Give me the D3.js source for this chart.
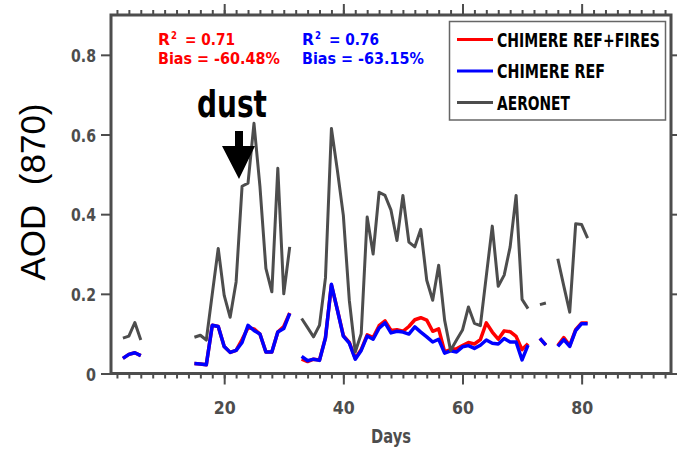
<!DOCTYPE html>
<html>
<head>
<meta charset="utf-8">
<script src="https://cdn.jsdelivr.net/npm/d3@7"></script>
<style>
  html, body { margin: 0; padding: 0; background: #fff; }
  svg { display: block; }
  .cond { font-family: "DejaVu Sans", sans-serif; font-weight: bold; }
</style>
</head>
<body>
<svg id="chart" width="677" height="449"></svg>
<script>
// ---------- DATA ----------
const days = d3.range(3, 82);
const aeronet = [
  0.089, 0.094, 0.128, 0.084,                         // 3-6
  null, null, null, null, null, null, null, null,     // 7-14
  0.091, 0.096, 0.084, 0.200, 0.314, 0.196, 0.141, 0.230, 0.470, 0.478, // 15-24
  0.628, 0.470, 0.264, 0.205, 0.515, 0.200, 0.318,    // 25-31
  null,                                               // 32
  0.138, 0.115, 0.092, 0.121, 0.240, 0.615, 0.510, 0.397, 0.184, 0.054, // 33-42
  0.100, 0.393, 0.300, 0.455, 0.447, 0.410, 0.334, 0.447, 0.330, 0.318, // 43-52
  0.362, 0.234, 0.184, 0.272, 0.134, 0.058, 0.084, 0.109, 0.167, 0.126, // 53-62
  0.120, 0.245, 0.370, 0.219, 0.247, 0.318, 0.447, 0.186, 0.163,        // 63-71
  null, 0.173, 0.177, null,                           // 72-75
  0.288, 0.220, 0.154, 0.376, 0.374, 0.340            // 76-81
];
const chimereRef = [
  0.038, 0.048, 0.052, 0.045,
  null, null, null, null, null, null, null, null,
  0.025, 0.024, 0.022, 0.121, 0.118, 0.068, 0.053, 0.058, 0.078, 0.121,
  0.108, 0.099, 0.054, 0.054, 0.104, 0.113, 0.151,
  null,
  0.043, 0.032, 0.036, 0.033, 0.089, 0.224, 0.159, 0.094, 0.076, 0.036,
  0.058, 0.094, 0.086, 0.114, 0.127, 0.102, 0.106, 0.104, 0.099, 0.117,
  0.104, 0.092, 0.079, 0.086, 0.051, 0.057, 0.054, 0.067, 0.070, 0.063,
  0.071, 0.084, 0.076, 0.074, 0.088, 0.079, 0.079, 0.034, 0.071,
  null, 0.088, 0.071, null,
  0.068, 0.085, 0.068, 0.108, 0.125, 0.125
];
const chimereFires = [
  0.038, 0.048, 0.052, 0.045,
  null, null, null, null, null, null, null, null,
  0.025, 0.024, 0.022, 0.121, 0.118, 0.068, 0.053, 0.058, 0.085, 0.115,
  0.112, 0.099, 0.054, 0.054, 0.104, 0.118, 0.152,
  null,
  0.036, 0.030, 0.036, 0.034, 0.090, 0.222, 0.160, 0.095, 0.078, 0.038,
  0.060, 0.097, 0.090, 0.120, 0.132, 0.108, 0.110, 0.106, 0.118, 0.135,
  0.140, 0.134, 0.106, 0.112, 0.055, 0.060, 0.062, 0.070, 0.078, 0.074,
  0.085, 0.127, 0.104, 0.086, 0.107, 0.105, 0.093, 0.060, 0.075,
  null, 0.088, 0.071, null,
  0.070, 0.090, 0.070, 0.110, 0.127, 0.127
];
const seriesNames = ["CHIMERE REF+FIRES", "CHIMERE REF", "AERONET"];
const seriesColors = ["#ff0000", "#0000ff", "#4d4d4d"];
const xMajorTicks = [20, 40, 60, 80];
const xMinorTicks = d3.range(2, 95, 2);
const yTicks = [0, 0.2, 0.4, 0.6, 0.8];
const yTickLabels = ["0", "0.2", "0.4", "0.6", "0.8"];
const statsFires = ["0.71", "-60.48%"];
const statsRef = ["0.76", "-63.15%"];

// ---------- LAYOUT ----------
const svg = d3.select("#chart");
const L = 111, R = 671, T = 15, B = 373.5;
const axisColor = "#4d4d4d";
const x = d3.scaleLinear().domain([1, 95]).range([L, R]);
const y = d3.scaleLinear().domain([0, 0.9]).range([B, T]);

// condensed text: draw at natural size, then squeeze horizontally to a target width
function condText(parent, tx, ty, str, size, color, targetW, anchor) {
  const g = parent.append("g");
  const t = g.append("text").attr("class", "cond")
    .attr("text-anchor", anchor || "start")
    .attr("fill", color).style("font-size", size + "px").text(str);
  const w = t.node().getComputedTextLength();
  const s = targetW / w;
  g.attr("transform", `translate(${tx},${ty}) scale(${s},1)`);
  return g;
}

// ---------- LINES ----------
const seriesData = [chimereFires, chimereRef, aeronet];
const widths = [3.5, 3.5, 3];
const line = d3.line()
  .defined(d => d.v !== null)
  .x(d => x(d.day))
  .y(d => y(d.v));
seriesData.forEach((vals, i) => {
  const pts = days.map((day, j) => ({ day, v: vals[j] }));
  svg.append("path")
    .datum(pts)
    .attr("fill", "none")
    .attr("stroke", seriesColors[i])
    .attr("stroke-width", widths[i])
    .attr("stroke-linejoin", "round")
    .attr("d", line);
});

// ---------- AXES ----------
function tickStyle(g) {
  g.select(".domain").remove();
  g.selectAll("line").attr("stroke", axisColor).attr("stroke-width", 2);
}
function squeezeLabels(g, widthFn, dx, dy) {
  g.selectAll("text").each(function(d, i) {
    const t = d3.select(this).attr("class", "cond").attr("fill", axisColor)
      .style("font-size", "18px");
    const w = this.getComputedTextLength();
    const s = widthFn(i) / w;
    t.attr("x", null).attr("y", null).attr("dy", null)
      .attr("transform", `translate(${dx},${dy}) scale(${s},1)`);
  });
}
svg.append("g").attr("transform", `translate(0,${B})`)
  .call(d3.axisBottom(x).tickValues(xMinorTicks).tickSize(5).tickFormat(""))
  .call(tickStyle);
const bx = svg.append("g").attr("transform", `translate(0,${B})`)
  .call(d3.axisBottom(x).tickValues(xMajorTicks).tickSize(11))
  .call(tickStyle);
squeezeLabels(bx, () => 22, 0, 40);
svg.append("g").attr("transform", `translate(0,${T})`)
  .call(d3.axisTop(x).tickValues(xMinorTicks).tickSize(5).tickFormat(""))
  .call(tickStyle);
svg.append("g").attr("transform", `translate(0,${T})`)
  .call(d3.axisTop(x).tickValues(xMajorTicks).tickSize(11).tickFormat(""))
  .call(tickStyle);
const ly = svg.append("g").attr("transform", `translate(${L},0)`)
  .call(d3.axisLeft(y).tickValues(yTicks).tickSize(10)
    .tickFormat((d, i) => yTickLabels[i]))
  .call(tickStyle);
squeezeLabels(ly, i => (i === 0 ? 10 : 25), -15, 6.5);
svg.append("g").attr("transform", `translate(${R},0)`)
  .call(d3.axisRight(y).tickValues(yTicks).tickSize(10).tickFormat(""))
  .call(tickStyle);
svg.append("rect").attr("x", L).attr("y", T).attr("width", R - L).attr("height", B - T)
  .attr("fill", "none").attr("stroke", axisColor).attr("stroke-width", 3);

// axis titles
condText(svg, (L + R) / 2, 443, "Days", 19, axisColor, 40, "middle");
svg.append("text")
  .attr("transform", "translate(45,192) rotate(-90)")
  .attr("text-anchor", "middle")
  .style("font-family", "'Liberation Sans', Arial, sans-serif")
  .style("font-size", "35px").attr("fill", "#000")
  .text("AOD\u00a0\u00a0(870)");

// ---------- STATS ----------
function stats(xp, color, vals) {
  condText(svg, xp, 45, "R", 16, color, 12);
  condText(svg, xp + 13, 38.5, "2", 11, color, 6);
  condText(svg, xp + 27, 45, "= " + vals[0], 16, color, 50);
  condText(svg, xp, 64, "Bias = " + vals[1], 16, color, 122);
}
stats(158, "#ff0000", statsFires);
stats(302, "#0000ff", statsRef);

// ---------- DUST ANNOTATION ----------
condText(svg, 197, 117, "dust", 37, "#000", 70);
svg.append("path")
  .attr("d", "M235,131 L243,131 L243,146 L255,146 L239,179 L222,146 L235,146 Z")
  .attr("fill", "#000");

// ---------- LEGEND ----------
const legendWidths = [163, 108, 73];
const lg = svg.append("g");
lg.append("rect").attr("x", 449.5).attr("y", 21.5).attr("width", 216).attr("height", 98.5)
  .attr("fill", "#fff").attr("stroke", "#666").attr("stroke-width", 1.5);
seriesNames.forEach((name, i) => {
  const yy = 39.5 + i * 31.5;
  lg.append("line").attr("x1", 457).attr("x2", 493).attr("y1", yy).attr("y2", yy)
    .attr("stroke", seriesColors[i]).attr("stroke-width", 3);
  condText(lg, 497, yy + 7, name, 19, "#000", legendWidths[i]);
});
</script>
</body>
</html>
